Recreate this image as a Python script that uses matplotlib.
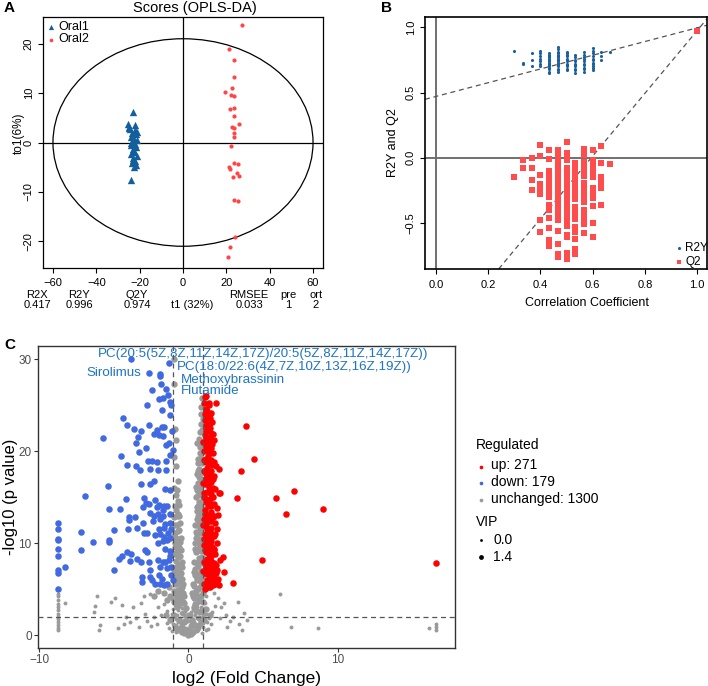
import numpy as np
import matplotlib.pyplot as plt
from matplotlib.patches import Ellipse

plt.rcParams['font.family'] = ['Liberation Sans', 'DejaVu Sans']

# ---------------- data: A (OPLS-DA scores) ----------------
oral1_t1 = [-23.0, -25.5, -25.0, -24.5, -22.0, -21.5, -23.5, -24.0, -22.5, -21.0, -23.0, -22.0,
            -24.0, -21.5, -23.0, -22.5, -24.0, -21.0, -23.0, -22.0, -23.5, -22.5, -24.1, -25.0,
            -22.0, -21.2, -23.8, -22.7, -21.8, -23.3]
oral1_to1 = [6.1, 3.8, 3.2, 2.8, 2.6, 1.8, 2.0, 1.2, 0.8, 0.5, 0.2, -0.3,
             -0.6, -1.0, -1.4, -2.0, -2.4, -2.8, -3.2, -3.8, -4.2, -5.0, -7.5, 3.0,
             3.5, 2.2, -0.2, -1.8, -4.6, -3.6]
oral2_t1 = [27.1, 21.2, 23.7, 23.7, 22.8, 19.5, 22.0, 23.7, 21.8, 23.7, 23.7, 25.7, 22.8, 23.7,
            23.7, 23.4, 22.0, 21.2, 21.5, 23.7, 25.4, 25.1, 25.9, 23.1, 23.7, 25.3, 24.2, 21.8, 20.6]
oral2_to1 = [23.8, 18.9, 16.6, 13.2, 11.0, 10.3, 9.6, 9.4, 6.7, 7.0, 5.4, 3.8, 3.1, 2.9,
             2.0, 1.2, -0.7, -5.0, -5.3, -4.1, -4.4, -6.2, -6.7, -7.0, -11.6, -11.9, -19.1, -21.1, -23.1]
stats_names = ['R2X', 'R2Y', 'Q2Y', 'RMSEE', 'pre', 'ort']
stats_values = ['0.417', '0.996', '0.974', '0.033', '1', '2']

# ---------------- data: B (permutation test) ----------------
perm_corr = [0.300, 0.333, 0.367, 0.400, 0.433, 0.467, 0.500, 0.533, 0.567, 0.600, 0.633, 0.667, 1.0]
r2y_cols = [
    [0.82],
    [0.72, 0.73],
    [0.70, 0.75, 0.80],
    [0.70, 0.72, 0.74, 0.76, 0.78, 0.80, 0.82],
    [0.65, 0.66, 0.68, 0.69, 0.70, 0.71, 0.72, 0.73, 0.74, 0.75, 0.76, 0.77, 0.78, 0.79, 0.80],
    [0.66, 0.67, 0.68, 0.70, 0.71, 0.72, 0.73, 0.74, 0.75, 0.76, 0.77, 0.78, 0.79, 0.80, 0.81, 0.83, 0.85],
    [0.67, 0.68, 0.70, 0.71, 0.72, 0.74, 0.75, 0.76, 0.78, 0.79, 0.80, 0.81],
    [0.65, 0.67, 0.68, 0.70, 0.71, 0.72, 0.74, 0.75, 0.77, 0.79],
    [0.66, 0.68, 0.69, 0.71, 0.72, 0.74, 0.76, 0.77, 0.79, 0.81],
    [0.67, 0.69, 0.70, 0.72, 0.73, 0.75, 0.76, 0.78, 0.80, 0.82, 0.84],
    [0.75, 0.78, 0.81],
    [0.81],
    [0.996],
]
q2_cols = [
    [-0.15],
    [-0.02, -0.08],
    [0.0, -0.08, -0.17, -0.25],
    [0.10, 0.01, -0.13, -0.20, -0.24, -0.28, -0.48, -0.57],
    [0.06, -0.01, -0.10, -0.12, -0.14, -0.16, -0.18, -0.20, -0.22, -0.24, -0.26, -0.28, -0.30,
     -0.36, -0.40, -0.46, -0.54, -0.63, -0.68],
    [0.06, 0.03, 0.0, -0.03, -0.06, -0.09, -0.12, -0.15, -0.18, -0.21, -0.24, -0.27, -0.30, -0.33,
     -0.36, -0.39, -0.42, -0.45, -0.48, -0.56, -0.66, -0.74, -0.76],
    [0.12, 0.04, 0.01, -0.02, -0.08, -0.11, -0.14, -0.17, -0.20, -0.23, -0.26, -0.29, -0.32, -0.35,
     -0.38, -0.42, -0.46, -0.50, -0.52, -0.59, -0.61, -0.73, -0.78],
    [-0.04, -0.07, -0.10, -0.13, -0.16, -0.19, -0.22, -0.25, -0.28, -0.32, -0.38, -0.42, -0.47,
     -0.53, -0.57, -0.62, -0.70, -0.74],
    [0.07, 0.02, -0.03, -0.08, -0.11, -0.14, -0.19, -0.23, -0.28, -0.31, -0.34, -0.40, -0.43,
     -0.46, -0.51, -0.58],
    [0.06, -0.02, -0.05, -0.09, -0.12, -0.15, -0.23, -0.28, -0.31, -0.37, -0.50, -0.61],
    [0.09, -0.04, -0.15, -0.19, -0.23, -0.36],
    [-0.05],
    [0.974],
]
r2y_intercept = 0.47
q2_intercept = -1.43

# ---------------- data: C (volcano) ----------------
down_pts = [
    (-3.81, 30.0), (-1.32, 29.6), (-2.65, 28.5), (-1.92, 28.4), (-1.92, 28.2), (-1.83, 27.3),
    (-2.43, 26.7), (-1.47, 26.8), (-1.38, 26.1), (-1.72, 25.8), (-1.98, 25.7), (-1.25, 25.4),
    (-1.16, 25.0), (-2.76, 25.0), (-1.76, 24.5), (-1.20, 23.9), (-4.37, 23.6), (-4.08, 22.9),
    (-2.65, 22.9), (-3.66, 22.4), (-3.17, 22.2), (-1.78, 22.6), (-1.61, 22.6), (-2.10, 22.3),
    (-1.09, 22.2), (-2.27, 21.9), (-1.98, 21.8), (-1.69, 21.7), (-5.73, 21.4), (-3.39, 21.5),
    (-1.47, 20.7), (-1.27, 20.9), (-3.48, 20.9), (-2.83, 20.3), (-3.33, 19.9), (-1.03, 20.1),
    (-1.25, 19.6), (-4.48, 19.5), (-4.10, 18.5), (-3.48, 18.4), (-2.72, 18.9), (-2.43, 18.9),
    (-2.10, 18.8), (-1.47, 18.9), (-3.23, 18.0), (-2.59, 18.1), (-2.05, 18.0), (-1.47, 18.0),
    (-5.40, 16.2), (-3.17, 16.4), (-2.59, 16.4), (-2.27, 16.8), (-1.54, 15.9), (-1.25, 15.8),
    (-6.89, 15.1), (-4.15, 14.8), (-2.94, 14.9), (-2.21, 14.7), (-2.81, 14.4), (-1.98, 14.2),
    (-5.33, 13.7), (-4.61, 13.7), (-1.65, 14.0), (-3.03, 13.9), (-2.65, 14.3), (-2.10, 13.9),
    (-1.69, 13.6), (-1.43, 14.0), (-5.00, 11.4), (-7.16, 11.2), (-6.40, 10.1), (-5.33, 10.3),
    (-5.29, 10.1), (-7.22, 9.3), (-8.23, 7.4), (-8.74, 12.2), (-8.74, 11.5), (-8.74, 10.5),
    (-8.74, 10.3), (-8.74, 9.4), (-8.74, 8.6), (-8.74, 7.1), (-8.74, 6.7), (-8.74, 5.0),
    (-4.99, 7.1), (-3.99, 12.8), (-3.55, 12.8), (-3.99, 12.5), (-3.43, 11.7), (-4.06, 11.5),
    (-3.03, 12.2), (-2.99, 11.1), (-2.76, 11.1), (-2.54, 13.3), (-2.27, 12.9), (-2.05, 13.2),
    (-1.87, 12.6), (-1.69, 12.9), (-1.54, 12.1), (-1.25, 12.2), (-1.25, 13.2), (-2.36, 12.4),
    (-1.98, 11.5), (-1.61, 11.6), (-1.36, 11.1), (-1.16, 11.5), (-2.21, 10.9), (-1.92, 11.0),
    (-1.65, 10.7), (-1.43, 10.3), (-1.20, 10.6), (-2.05, 10.0), (-1.72, 10.2), (-1.54, 9.4),
    (-1.25, 9.1), (-4.10, 9.0), (-3.84, 8.8), (-4.44, 8.6), (-4.62, 8.3), (-3.43, 8.3),
    (-2.92, 9.2), (-2.76, 9.0), (-3.92, 8.1), (-3.14, 7.9), (-2.61, 8.0), (-2.05, 8.2),
    (-1.72, 8.0), (-1.54, 7.9), (-1.32, 8.2), (-1.20, 8.6), (-1.92, 7.4), (-1.43, 7.3),
    (-1.14, 7.4), (-2.54, 7.1), (-3.10, 6.3), (-3.10, 5.8), (-2.54, 6.3), (-2.43, 6.0),
    (-1.98, 6.5), (-1.76, 6.1), (-1.87, 5.6), (-2.21, 5.6), (-1.65, 5.4), (-1.16, 6.5),
    (-1.43, 5.5), (-1.05, 6.0),
]
up_pts = [
    (1.87, 25.3), (1.14, 25.9), (3.86, 22.7), (4.41, 19.2), (3.52, 17.8), (2.03, 18.1),
    (7.05, 15.7), (5.89, 14.9), (3.26, 14.9), (2.07, 15.5), (9.01, 13.7), (6.53, 13.2),
    (4.93, 8.2), (16.59, 7.8), (2.97, 5.7), (2.36, 6.9), (2.32, 8.5), (2.07, 5.4), (1.14, 5.0),
    (2.14, 15.5), (1.96, 13.1), (1.74, 9.4),
    (1.15, 26.0), (1.35, 25.2), (1.20, 24.6), (1.50, 24.2), (1.30, 23.8), (1.10, 23.4), (1.60, 23.2),
    (1.40, 22.8), (1.25, 22.4), (1.55, 22.0), (1.10, 21.8), (1.75, 21.2), (1.35, 21.0), (1.20, 20.6),
    (1.50, 20.4), (1.05, 20.0), (1.65, 19.8), (1.30, 19.5), (1.45, 19.1), (1.15, 18.8), (1.60, 18.5),
    (1.25, 18.2), (1.05, 17.9), (1.40, 17.6), (1.70, 17.3), (1.20, 17.0), (1.50, 16.7), (1.10, 16.4),
    (1.35, 16.1), (1.80, 15.9), (1.25, 15.6), (1.55, 15.3), (1.05, 15.0), (1.45, 14.8), (1.15, 14.5),
    (1.70, 14.3), (1.30, 14.0), (1.90, 13.8), (1.10, 13.6), (1.50, 13.4), (1.25, 13.1), (1.65, 12.8),
    (1.05, 12.6), (1.40, 12.4), (1.80, 12.2), (1.20, 11.9), (1.55, 11.6), (1.35, 11.3), (1.10, 11.0),
    (1.70, 10.8), (1.45, 10.5), (1.25, 10.2), (1.95, 10.0), (1.05, 9.8), (1.60, 9.6), (1.35, 9.3),
    (1.15, 9.0), (1.80, 8.8), (1.50, 8.6), (1.25, 8.3), (2.10, 8.2), (1.05, 8.0), (1.70, 7.8),
    (1.40, 7.6), (1.20, 7.3), (1.90, 7.1), (1.55, 6.9), (1.10, 6.7), (1.35, 6.5), (1.75, 6.3),
    (2.00, 6.1), (1.25, 6.0), (1.50, 5.8), (1.05, 5.6), (1.65, 5.4), (1.30, 5.2), (1.00, 7.0),
    (1.00, 12.0), (1.00, 16.5), (1.00, 21.0), (1.40, 25.0), (1.20, 19.2), (1.45, 15.6), (1.60, 11.0),
    (1.30, 7.0), (1.15, 12.2), (1.55, 17.8), (1.35, 23.0), (1.85, 6.8), (1.45, 9.9), (1.70, 13.0),
    (1.20, 14.8), (1.60, 20.8), (1.10, 24.0), (1.30, 10.8), (1.50, 6.4), (1.25, 16.8), (1.40, 19.8),
    (1.15, 21.4), (1.75, 9.2), (1.95, 11.5), (1.65, 16.0), (1.85, 18.4), (1.45, 21.6), (1.20, 22.9),
    (1.08, 25.2), (1.28, 24.4), (1.45, 23.6), (1.18, 22.2), (1.62, 21.9), (1.32, 20.2), (1.08, 19.0),
    (1.52, 19.0), (1.72, 18.8), (1.35, 18.6), (1.18, 17.5), (1.45, 17.2), (1.62, 17.0), (1.30, 16.4),
    (1.08, 15.5), (1.65, 15.0), (1.35, 14.4), (1.55, 14.0), (1.12, 13.2), (1.35, 12.8), (1.55, 12.4),
    (1.22, 11.5), (1.45, 11.2), (1.80, 11.0), (1.08, 10.5), (1.55, 10.2), (1.30, 9.6), (1.12, 9.3),
    (1.65, 8.9), (1.38, 8.8), (1.55, 8.1), (1.15, 7.8), (1.85, 7.6), (1.62, 7.3), (1.45, 7.1),
    (1.22, 6.6), (1.62, 6.0), (1.40, 5.9), (1.18, 5.4), (1.80, 5.6), (1.45, 5.2), (1.95, 5.9),
    (1.28, 20.8), (1.48, 22.5), (1.22, 23.6),
]
unchanged_hi_vip = [
    (-0.98, 30.0), (-0.95, 27.3), (-0.90, 22.4), (-0.85, 21.2), (-0.95, 19.4), (-0.80, 18.4),
    (-0.70, 16.8), (-0.78, 15.8), (-0.72, 14.6), (-0.85, 13.6), (-0.62, 12.9), (-0.90, 12.0),
    (-0.70, 11.3), (-0.82, 10.6), (-0.58, 10.1), (-0.92, 9.6), (-0.75, 9.0), (-0.55, 8.6),
    (-0.86, 8.1), (-0.65, 7.6), (-0.95, 7.1), (-0.50, 6.8), (-0.76, 6.4), (-0.60, 5.9),
    (-0.90, 5.5), (-0.45, 5.2), (-0.70, 4.9), (-0.68, 13.2), (-0.88, 11.1), (-0.52, 9.3),
    (-0.80, 7.4), (-0.42, 6.1), (-0.98, 6.2), (-0.62, 4.4), (-0.50, 3.8), (-0.36, 4.6),
    (-0.95, 16.0), (-0.85, 15.2), (-0.62, 14.2), (-0.92, 14.0), (-0.78, 13.0), (-0.55, 12.2),
    (-0.95, 12.8), (-0.75, 12.0), (-0.60, 11.4), (-0.95, 10.8), (-0.70, 10.2), (-0.48, 10.6),
    (-0.88, 10.0), (-0.62, 9.6), (-0.95, 8.8), (-0.70, 8.5), (-0.45, 8.0), (-0.60, 7.2),
    (-0.88, 7.0), (-0.40, 7.4), (-0.70, 6.8), (-0.55, 6.3), (-0.85, 6.0), (-0.35, 5.6),
    (-0.75, 5.5), (-0.50, 5.0), (-0.95, 4.8), (-0.30, 4.2), (-0.82, 4.2), (-0.45, 4.4),
    (-0.70, 3.8), (-0.95, 3.6), (-0.60, 3.4), (-0.30, 3.5),
    (0.92, 25.8), (0.88, 24.1), (0.75, 22.1), (0.86, 21.0), (0.80, 19.8), (0.66, 19.2),
    (0.90, 18.7), (0.70, 18.1), (0.56, 17.5), (0.85, 17.0), (0.62, 16.5), (0.76, 16.0),
    (0.92, 15.5), (0.50, 15.0), (0.70, 14.5), (0.86, 14.0), (0.55, 13.5), (0.66, 13.0),
    (0.90, 12.5), (0.46, 12.0), (0.76, 11.5), (0.60, 11.0), (0.86, 10.5), (0.42, 10.0),
    (0.70, 9.5), (0.54, 9.0), (0.92, 8.5), (0.38, 8.0), (0.66, 7.5), (0.82, 7.0),
    (0.46, 6.5), (0.60, 6.0), (0.32, 5.5), (0.76, 5.2), (0.50, 4.8), (0.58, 15.8),
    (0.80, 13.4), (0.48, 11.2), (0.72, 8.4), (0.90, 6.3), (0.36, 6.9), (0.26, 4.6),
    (0.64, 4.1), (0.40, 4.0), (0.95, 20.4), (0.60, 20.9), (0.82, 23.0),
    (0.95, 17.8), (0.72, 17.2), (0.88, 16.2), (0.65, 15.2), (0.95, 14.8), (0.78, 14.2),
    (0.60, 13.9), (0.95, 13.2), (0.72, 12.2), (0.55, 12.6), (0.95, 11.8), (0.82, 11.1),
    (0.66, 10.4), (0.50, 10.6), (0.95, 10.0), (0.78, 9.9), (0.62, 9.2), (0.45, 9.4),
    (0.85, 9.1), (0.95, 7.8), (0.74, 7.9), (0.55, 7.8), (0.45, 7.2), (0.72, 6.6),
    (0.95, 6.8), (0.55, 6.2), (0.85, 5.8), (0.40, 5.3), (0.65, 5.0), (0.95, 4.6),
    (0.30, 4.2), (0.55, 4.2), (0.80, 4.3), (0.70, 3.7), (0.95, 3.6), (0.45, 3.4),
    (0.85, 19.3), (0.75, 20.5), (0.90, 22.3), (0.70, 21.3), (0.95, 23.5), (0.82, 24.8),
    (0.68, 18.7), (0.78, 17.6), (0.62, 17.9), (0.92, 16.6), (0.52, 16.1), (0.80, 15.3),
    (0.68, 14.0), (0.58, 12.0), (0.88, 13.7),
    (-0.60, 0.5), (-0.30, 0.2), (0.00, 0.6), (0.30, 0.3), (0.55, 0.7), (-0.90, 1.0), (-0.45, 0.9),
    (0.15, 1.0), (0.45, 1.1), (0.80, 1.2), (-1.20, 1.6), (-0.65, 1.6), (-0.20, 1.5), (0.25, 1.6),
    (0.70, 1.8), (1.05, 1.6), (-0.95, 2.2), (-0.35, 2.4), (0.10, 2.2), (0.50, 2.6), (0.90, 2.5),
    (-0.75, 3.0), (-0.15, 2.9), (0.35, 3.0), (1.20, 2.8), (-1.50, 2.2), (1.45, 2.2), (-0.05, 0.0),
    (0.20, 0.1), (-0.40, 1.3),
    (-1.30, 5.2), (-1.60, 4.6), (-1.20, 4.3), (-2.00, 4.8), (-1.45, 3.8), (-2.30, 4.2),
]
unchanged_lo_vip = [
    (-8.74, 0.5), (-8.74, 0.8), (-8.74, 1.1), (-8.74, 1.4), (-8.74, 1.7), (-8.74, 2.0), (-8.74, 2.3),
    (-8.74, 2.7), (-8.74, 3.0), (-8.74, 3.4), (-8.74, 3.8), (-8.74, 4.2), (-8.74, 4.5),
    (-8.25, 3.5), (-6.10, 4.3), (-6.25, 3.2), (-6.30, 2.5), (-5.90, 1.1), (-6.00, 0.5), (-4.90, 4.0),
    (-4.45, 3.3), (-4.30, 1.2), (-4.70, 0.8), (-3.70, 3.0), (-3.50, 1.9), (-3.20, 3.5), (-2.90, 2.3),
    (-2.80, 1.5), (-2.50, 1.0), (-2.30, 2.0), (-4.20, 2.0), (-3.30, 0.9), (-2.60, 4.5), (-3.00, 4.2),
    (-2.00, 3.0), (-1.80, 2.2), (-2.10, 1.2), (-1.60, 3.4), (-1.40, 2.6), (-5.20, 3.6), (-3.90, 1.4),
    (2.50, 2.2), (2.80, 1.5), (3.30, 3.6), (3.70, 2.4), (3.90, 1.6), (3.60, 0.6), (2.20, 3.0),
    (2.00, 4.0), (2.60, 0.9), (3.00, 2.0), (6.15, 4.5), (6.90, 0.9), (8.70, 0.8), (16.10, 0.8),
    (16.60, 1.2), (16.60, 0.9), (16.60, 0.6), (2.40, 3.5), (1.80, 3.2), (1.60, 2.5), (2.10, 1.8),
    (1.70, 4.6), (3.40, 1.2),
    (-0.80, 0.3), (-0.50, 0.2), (-0.30, 0.4), (-0.10, 0.1), (0.00, 0.3), (0.10, 0.2), (0.20, 0.5),
    (0.40, 0.3), (0.60, 0.4), (0.90, 0.2), (-1.10, 0.4), (1.20, 0.5),
    (-1.30, 0.8), (-0.90, 0.7), (-0.60, 0.9), (-0.35, 0.6), (-0.15, 0.8), (0.05, 0.7), (0.25, 0.9),
    (0.45, 0.6), (0.70, 0.8), (1.00, 0.9), (1.30, 0.7),
    (-1.40, 1.3), (-1.00, 1.2), (-0.70, 1.4), (-0.45, 1.1), (-0.20, 1.3), (0.00, 1.5), (0.20, 1.2),
    (0.40, 1.4), (0.65, 1.1), (0.95, 1.3), (1.25, 1.4), (1.50, 1.2),
    (-1.20, 1.8), (-0.85, 1.7), (-0.55, 1.9), (-0.30, 1.6), (-0.10, 1.8), (0.10, 2.0), (0.30, 1.7),
    (0.55, 1.9), (0.80, 1.6), (1.10, 1.8), (1.40, 1.9),
    (-1.10, 2.3), (-0.75, 2.2), (-0.50, 2.4), (-0.25, 2.1), (0.00, 2.3), (0.20, 2.5), (0.45, 2.2),
    (0.70, 2.4), (0.95, 2.1), (1.20, 2.3),
    (-1.00, 2.8), (-0.70, 2.7), (-0.45, 2.9), (-0.20, 2.6), (0.30, 2.8), (0.55, 3.0), (0.80, 2.7),
    (1.05, 2.9), (-0.90, 3.3), (-0.60, 3.2), (-0.35, 3.4), (0.35, 3.2), (0.60, 3.4), (0.85, 3.1),
    (1.10, 3.5), (-0.80, 3.8), (-0.55, 4.0), (-0.30, 3.7), (0.40, 3.9), (0.65, 3.7), (0.90, 4.1),
    (-1.10, 3.9), (1.20, 4.2),
]
labelled = ['PC(20:5(5Z,8Z,11Z,14Z,17Z)/20:5(5Z,8Z,11Z,14Z,17Z))',
            'PC(18:0/22:6(4Z,7Z,10Z,13Z,16Z,19Z))', 'Sirolimus', 'Methoxybrassinin', 'Flutamide']
label_xy = [(-6.09, 30.6), (-0.80, 29.2), (-6.82, 28.5), (-0.47, 27.8), (-0.47, 26.5)]
fc_cut = 1
p_cut = 2
counts = {'up': 271, 'down': 179, 'unchanged': 1300}
vip_levels = ['0.0', '1.4']

# colours
blue_a = '#135e9c'
red_a = '#ff4545'
c_up, c_down, c_gray = '#ff0000', '#4169e1', '#9a9a9a'

W, H = 708, 686
fig = plt.figure(figsize=(W / 100, H / 100), dpi=100)


def box(l, t, r, b):
    return [l / W, 1 - b / H, (r - l) / W, (b - t) / H]


# ---------------- panel A ----------------
axA = fig.add_axes(box(43, 17, 323, 268))
axA.axhline(0, color='black', lw=0.9)
axA.axvline(0, color='black', lw=0.9)
axA.add_patch(Ellipse((0, 0), 120, 42, fill=False, ec='black', lw=0.9))
axA.scatter(oral1_t1, oral1_to1, marker='^', s=28, c=blue_a, lw=0, zorder=3)
axA.scatter(oral2_t1, oral2_to1, marker='o', s=9, c=red_a, lw=0, zorder=3)
axA.set_xlim(-64.6, 64.6)
axA.set_ylim(-25.4, 25.4)
axA.set_xticks(range(-60, 61, 20))
axA.set_yticks(range(-20, 21, 10))
axA.tick_params(labelsize=8, length=3.6, width=0.8, pad=3.5)
axA.tick_params(axis='y', labelrotation=90, pad=3)
for lab in axA.get_yticklabels():
    lab.set_va('center')
for s in axA.spines.values():
    s.set_linewidth(0.9)

# ---------------- panel B ----------------
axB = fig.add_axes(box(425, 17, 707, 269))
axB.axhline(0, color='#707070', lw=1.4)
axB.axvline(0, color='#707070', lw=1.4)
axB.axline((0, r2y_intercept), (1, r2y_cols[-1][0]), color='#555555', lw=0.9, ls=(0, (4, 3)))
axB.axline((0, q2_intercept), (1, q2_cols[-1][0]), color='#555555', lw=0.9, ls=(0, (4, 3)))
for x, col in zip(perm_corr, r2y_cols):
    axB.scatter([x] * len(col), col, marker='o', s=5, c='#1a60a0', lw=0, zorder=3)
for x, col in zip(perm_corr, q2_cols):
    axB.scatter([x] * len(col), col, marker='s', s=13, c='#ff4d4d', lw=0, zorder=3)
axB.set_xlim(-0.042, 1.038)
axB.set_ylim(-0.853, 1.079)
axB.set_xticks(np.arange(0, 1.01, 0.2))
axB.set_xticklabels(['0.0', '0.2', '0.4', '0.6', '0.8', '1.0'])
axB.set_yticks([-0.5, 0.0, 0.5, 1.0])
axB.set_yticklabels(['\u22120.5', '0.0', '0.5', '1.0'])
axB.tick_params(labelsize=8, length=3.6, width=0.8, pad=4.5)
axB.tick_params(axis='y', labelrotation=90, pad=3)
for lab in axB.get_yticklabels():
    lab.set_va('center')
for s in axB.spines.values():
    s.set_linewidth(1.2)

# ---------------- panel C ----------------
axC = fig.add_axes(box(38, 346, 455, 648))
ux, uy = np.array(unchanged_lo_vip).T
axC.scatter(ux, uy, s=8, c=c_gray, lw=0, zorder=2)
hx, hy = np.array(unchanged_hi_vip).T
axC.scatter(hx, hy, s=21, c=c_gray, lw=0, zorder=2)
dx, dy = np.array(down_pts).T
axC.scatter(dx, dy, s=22, c=c_down, lw=0, zorder=3)
rx, ry = np.array(up_pts).T
axC.scatter(rx, ry, s=22, c=c_up, lw=0, zorder=3)
for v in (-fc_cut, fc_cut):
    axC.axvline(v, color='#555555', lw=0.9, ls=(0, (4, 3)), zorder=4)
axC.axhline(p_cut, color='#555555', lw=0.9, ls=(0, (4, 3)), zorder=4)
for txt, (tx, ty) in zip(labelled, label_xy):
    axC.text(tx, ty, txt, color='#1f74c4', fontsize=9.6, ha='left', va='center', zorder=5)
axC.set_xlim(-10.07, 17.86)
axC.set_ylim(-1.41, 31.45)
axC.set_xticks([-10, 0, 10])
axC.set_yticks([0, 10, 20, 30])
axC.tick_params(labelsize=8.5, length=3, width=0.8, pad=1.5, colors='#333333', labelcolor='#4d4d4d')
for s in axC.spines.values():
    s.set_linewidth(1.0)
    s.set_color('#333333')

# ---------------- free text (pixel overlay) ----------------
ov = fig.add_axes([0, 0, 1, 1], zorder=10)
ov.set_xlim(0, W)
ov.set_ylim(H, 0)
ov.axis('off')
ov.patch.set_alpha(0)

for lt, (px, py) in zip('ABC', [(4, 8), (381, 8), (4, 345)]):
    ov.text(px, py, lt, fontsize=11, fontweight='bold', ha='left', va='center')

ov.text(195, 8, 'Scores (OPLS-DA)', fontsize=10.5, ha='center', va='center')
ov.text(19, 133, 'to1(6%)', fontsize=8.5, rotation=90, ha='center', va='center')
ov.scatter([51], [26.5], marker='^', s=14, c=blue_a, lw=0)
ov.text(58, 26.5, 'Oral1', fontsize=9, ha='left', va='center')
ov.scatter([51], [39.5], marker='o', s=7, c=red_a, lw=0)
ov.text(58, 39.5, 'Oral2', fontsize=9, ha='left', va='center')
stat_x = [37, 79, 137, 249, 288, 316]
for nm, val, sx in zip(stats_names, stats_values, stat_x):
    ov.text(sx, 294.5, nm, fontsize=8, ha='center', va='center')
    ov.text(sx, 304.5, val, fontsize=8, ha='center', va='center')
ov.text(192, 304.5, 't1 (32%)', fontsize=8, ha='center', va='center')

ov.text(393, 143, 'R2Y and Q2', fontsize=9, rotation=90, ha='center', va='center')
ov.text(587, 303, 'Correlation Coefficient', fontsize=9, ha='center', va='center')
ov.scatter([679], [248], marker='o', s=5, c='#1a60a0', lw=0)
ov.text(685, 248, 'R2Y', fontsize=8.5, ha='left', va='center')
ov.scatter([679], [262], marker='s', s=12, c='#ff4d4d', lw=0)
ov.text(685, 262, 'Q2', fontsize=8.5, ha='left', va='center')

ov.text(247, 678, 'log2 (Fold Change)', fontsize=12.5, ha='center', va='center')
ov.text(11, 497, '-log10 (p value)', fontsize=12, rotation=90, ha='center', va='center')

ov.text(476, 444.5, 'Regulated', fontsize=10, ha='left', va='center')
for (key, col), py in zip([('up', c_up), ('down', c_down), ('unchanged', c_gray)], [465.5, 482, 499]):
    ov.scatter([481], [py + 1], s=7, c=col, lw=0)
    ov.text(491, py, f'{key}: {counts[key]}', fontsize=10, ha='left', va='center')
ov.text(476, 521.5, 'VIP', fontsize=10, ha='left', va='center')
for lev, py, sz in zip(vip_levels, [539.5, 557], [4, 12]):
    ov.scatter([481], [py], s=sz, c='black', lw=0)
    ov.text(493, py, lev, fontsize=10, ha='left', va='center')

fig.savefig('out.png', dpi=100)
